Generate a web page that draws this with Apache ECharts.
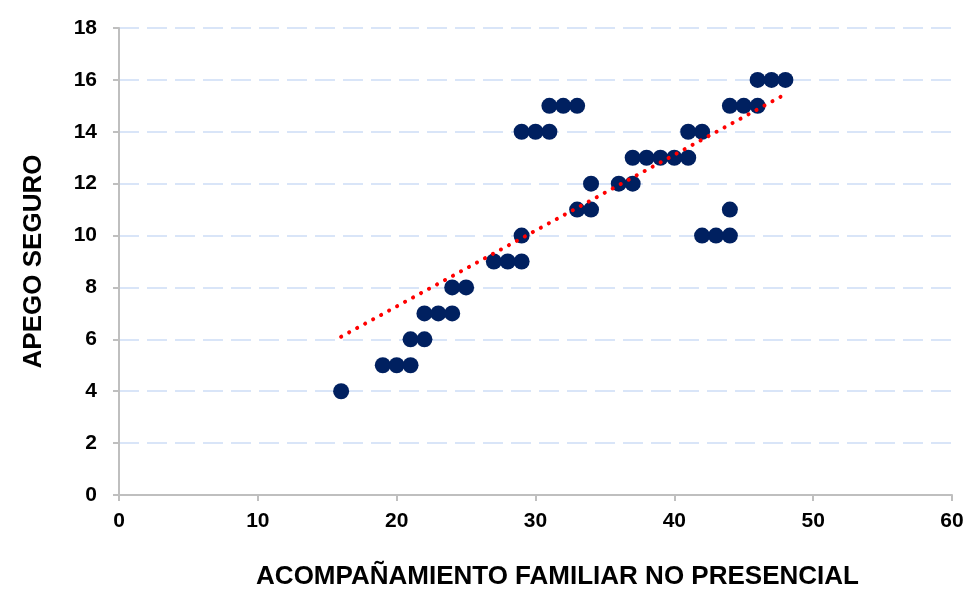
<!DOCTYPE html>
<html>
<head>
<meta charset="utf-8">
<script src="https://cdn.jsdelivr.net/npm/echarts@6/dist/echarts.min.js"></script>
<style>html,body{margin:0;padding:0;background:#fff}#c{width:967px;height:590px}</style>
</head>
<body>
<div id="c"></div>
<script>
const xTitle = 'ACOMPAÑAMIENTO FAMILIAR NO PRESENCIAL';
const yTitle = 'APEGO SEGURO';
const xValues = [16,19,20,21,21,22,22,23,24,24,25,27,28,29,29,29,30,31,31,32,33,33,34,34,36,37,37,38,39,40,41,41,42,44,45,46,46,47,48,42,43,44,44];
const yValues = [4,5,5,5,6,6,7,7,7,8,8,9,9,9,10,14,14,14,15,15,15,11,11,12,12,12,13,13,13,13,13,14,14,15,15,15,16,16,16,10,10,10,11];
const trendX = [16, 48];
const trendY = [6.1, 15.45];

const pts = xValues.map((x, i) => [x, yValues[i]]);
const trend = trendX.map((x, i) => [x, trendY[i]]);
const font = 'Liberation Sans, Arial, sans-serif';

const chart = echarts.init(document.getElementById('c'));
chart.setOption({
  animation: false,
  grid: { left: 119, right: 15, top: 28, bottom: 95, containLabel: false, outerBoundsMode: 'none' },
  xAxis: {
    type: 'value', min: 0, max: 60, interval: 10,
    name: xTitle, nameLocation: 'middle', nameGap: 69,
    nameTextStyle: { fontFamily: font, fontWeight: 'bold', fontSize: 26, color: '#000', padding: [0, 0, 0, 44] },
    axisLine: { show: true, lineStyle: { color: '#bfbfbf', width: 2 } },
    axisTick: { show: true, length: 6, lineStyle: { color: '#bfbfbf', width: 2 } },
    axisLabel: { fontFamily: font, fontWeight: 'bold', fontSize: 21, color: '#000', margin: 16 },
    splitLine: { show: false }
  },
  yAxis: {
    type: 'value', min: 0, max: 18, interval: 2,
    name: yTitle, nameLocation: 'middle', nameGap: 72,
    nameTextStyle: { fontFamily: font, fontWeight: 'bold', fontSize: 26, color: '#000' },
    axisLine: { show: true, lineStyle: { color: '#bfbfbf', width: 2 } },
    axisTick: { show: true, length: 6, lineStyle: { color: '#bfbfbf', width: 2 } },
    axisLabel: { fontFamily: font, fontWeight: 'bold', fontSize: 21, color: '#000', margin: 22 },
    splitLine: { show: true, lineStyle: { color: '#d9e5f8', width: 2, type: [20, 8] } }
  },
  series: [
    {
      type: 'line', data: trend, showSymbol: false, symbol: 'none', z: 3,
      lineStyle: { color: '#ff0000', width: 4, type: [0.1, 9], cap: 'round' }
    },
    {
      type: 'scatter', data: pts, symbolSize: 16, z: 2,
      itemStyle: { color: '#002060', opacity: 1 }
    }
  ]
});
</script>
</body>
</html>
